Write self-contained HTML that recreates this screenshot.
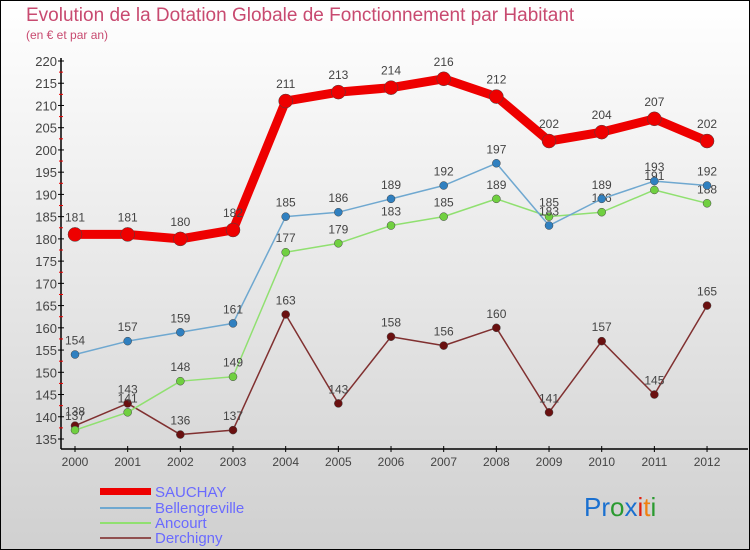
<!DOCTYPE html>
<html><head><meta charset="utf-8"><style>
body{margin:0}
#c{position:relative;width:750px;height:550px;overflow:hidden}
svg text{font-family:"Liberation Sans",sans-serif}
</style></head><body>
<div id="c">
<svg id="s" width="750" height="550" xmlns="http://www.w3.org/2000/svg">
<defs><linearGradient id="bg" x1="0" y1="0" x2="0" y2="1"><stop offset="0" stop-color="#ffffff"/><stop offset="1" stop-color="#d0d0d0"/></linearGradient></defs>
<rect x="0.5" y="0.5" width="749" height="549" fill="url(#bg)" stroke="#000"/>
<text x="26" y="21" font-size="19" fill="#c84a70">Evolution de la Dotation Globale de Fonctionnement par Habitant</text>
<text x="26" y="39" font-size="12" fill="#c84a70">(en € et par an)</text>
<g id="axes"></g><g id="series"></g>
<g>
<rect x="100" y="488" width="51" height="7" fill="#e00"/>
<text x="155" y="497" font-size="15" fill="#6a6aff">SAUCHAY</text>
<line x1="100" y1="508" x2="151" y2="508" stroke="#6fa8d0" stroke-width="2"/>
<text x="155" y="513" font-size="15" fill="#6a6aff">Bellengreville</text>
<line x1="100" y1="523" x2="151" y2="523" stroke="#90e070" stroke-width="2"/>
<text x="155" y="528" font-size="15" fill="#6a6aff">Ancourt</text>
<line x1="100" y1="538" x2="151" y2="538" stroke="#905050" stroke-width="2"/>
<text x="155" y="543" font-size="15" fill="#6a6aff">Derchigny</text>
</g>
<g font-size="26">
<text x="584" y="516"><tspan fill="#1a70d0">Pr</tspan><tspan fill="#2a9a30">o</tspan><tspan fill="#1a70d0">x</tspan><tspan fill="#e02010">i</tspan><tspan fill="#f08010">t</tspan><tspan fill="#2a9a30">i</tspan></text>
</g>
</svg></div>
<script>
const years=[2000,2001,2002,2003,2004,2005,2006,2007,2008,2009,2010,2011,2012];
const sauchay=[181,181,180,182,211,213,214,216,212,202,204,207,202];
const bellengreville=[154,157,159,161,185,186,189,192,197,183,189,193,192];
const ancourt=[137,141,148,149,177,179,183,185,189,185,186,191,188];
const derchigny=[138,143,136,137,163,143,158,156,160,141,157,145,165];
const yTicks=[135,140,145,150,155,160,165,170,175,180,185,190,195,200,205,210,215,220];
const NS="http://www.w3.org/2000/svg";
const X=i=>75+i*52.67;
const Y=v=>61+(220-v)*(378/85);
function mk(t,a,p){const e=document.createElementNS(NS,t);for(const k in a)e.setAttribute(k,a[k]);p.appendChild(e);return e;}
const ax=document.getElementById('axes');
let l=mk('line',{x1:61,y1:58,x2:61,y2:449,stroke:'#000','stroke-width':1.5},ax);


l=mk('line',{x1:61,y1:449,x2:748,y2:449,stroke:'#000','stroke-width':1.5},ax);


yTicks.forEach(v=>{
 mk('line',{x1:58,x2:64,y1:Y(v),y2:Y(v),stroke:'#000'},ax);
 if(v<220) mk('line',{x1:59,x2:63,y1:Y(v+2.5),y2:Y(v+2.5),stroke:'#e00'},ax);
 const t=mk('text',{x:57,y:Y(v)+5,'font-size':13,fill:'#444','text-anchor':'end'},ax);
 
 
 t.textContent=v;
});
years.forEach((y,i)=>{
 mk('line',{x1:X(i),x2:X(i),y1:446,y2:452,stroke:'#000'},ax);
 const t=mk('text',{x:X(i),y:466,'font-size':12,fill:'#444','text-anchor':'middle'},ax);
 
 
 t.textContent=y;
});
const sg=document.getElementById('series');
function draw(name,d,col,w,r,dot){
 const g=mk('g',{},sg);
 
 
 mk('polyline',{points:d.map((v,i)=>X(i)+','+Y(v)).join(' '),fill:'none',stroke:col,'stroke-width':w,'stroke-linejoin':'round'},g);
 d.forEach((v,i)=>{
  const c=mk('circle',{cx:X(i),cy:Y(v),r:r,fill:dot,stroke:'#444','stroke-width':0.5},g);
  
  
  const t=mk('text',{x:X(i),y:Y(v)-(r+6),'font-size':12,fill:'#444','text-anchor':'middle'},g);
  
  
  t.textContent=v;
 });
}
draw('derchigny',derchigny,'#803030',1.5,4,'#6a1010');
draw('ancourt',ancourt,'#90e070',1.5,4,'#70d040');
draw('bellengreville',bellengreville,'#6fa8d0',1.5,4,'#3080c0');
draw('sauchay',sauchay,'#e00',9,7,'#e00');
</script>
</body></html>
